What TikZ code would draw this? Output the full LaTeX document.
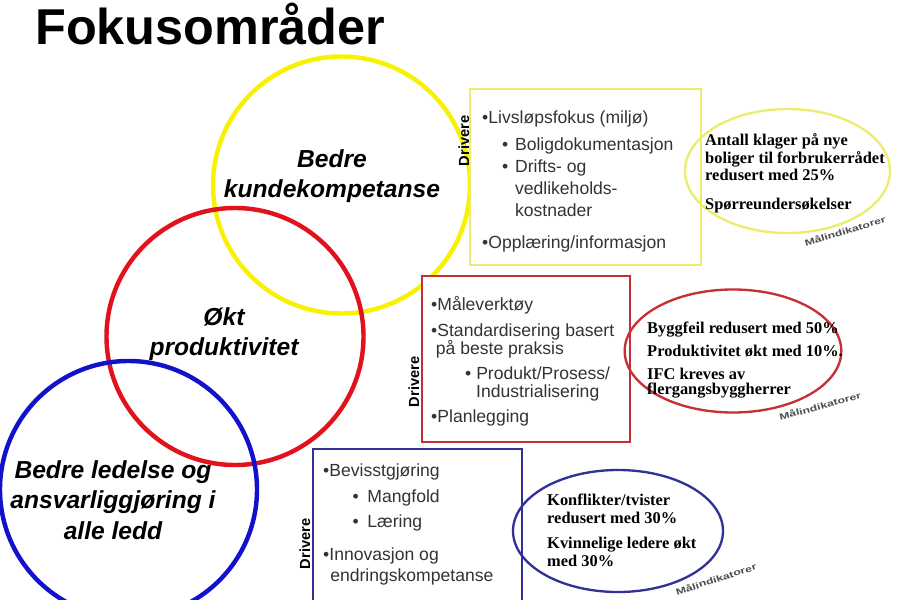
\documentclass[tikz,border=0pt]{standalone}
\usepackage{fontspec}
\setmainfont{Liberation Sans}
\newfontfamily\tnr{Liberation Serif}
\usetikzlibrary{shapes.geometric}
\definecolor{ringyellow}{RGB}{248,242,0}
\definecolor{paleyellow}{RGB}{236,236,110}
\definecolor{ringred}{RGB}{226,18,28}
\definecolor{boxred}{RGB}{196,48,52}
\definecolor{ringblue}{RGB}{18,18,205}
\definecolor{boxblue}{RGB}{50,50,150}
\begin{document}
\begin{tikzpicture}[x=0.03cm,y=-0.03cm]
    \tikzset{% This is the style settings for nodes
    ring/.style={circle,line width=3.8pt,minimum size=7.71cm,inner sep=0pt},
    area/.style={font=\fontsize{21}{26}\selectfont\bfseries\itshape,align=center},
    box/.style={rectangle,line width=1.6pt,fill=white,inner sep=0pt},
    drv/.style={text=black!80,align=left,anchor=north west,inner sep=0pt},
    goal/.style={ellipse,line width=2pt,inner sep=0pt},
    gtxt/.style={align=left,anchor=north west,inner sep=0pt},
    tag/.style={font=\fontsize{12.5}{13}\selectfont\bfseries,rotate=90,inner sep=0pt},
    mal/.style={font=\fontsize{7.5}{8}\selectfont\bfseries,text=black!70,xscale=1.4,inner sep=0pt},
    }
    \useasboundingbox (0,0) rectangle (900,600);

    % Title
    \node[anchor=base west,inner sep=0pt,font=\fontsize{43}{46}\selectfont\bfseries] (title) at (35,45) {Fokusområder};

    % Circles
    \node[ring,draw=ringyellow] (yc) at (341.5,185) {};
    \node[ring,draw=ringred] (rc) at (235,336.5) {};
    \node[ring,draw=ringblue] (bc) at (128.5,489.5) {};
    \node[area] (yt) at (332,176) {Bedre\\kundekompetanse};
    \node[area] (rt) at (224,334) {Økt\\produktivitet};
    \node[area] (bt) at (113,500) {Bedre ledelse og\\ansvarliggjøring i\\alle ledd};

    % Boxes
    \node[box,draw=paleyellow,minimum width=6.93cm,minimum height=5.28cm] (yb) at (585.5,177) {};
    \node[box,draw=boxred,minimum width=6.24cm,minimum height=4.98cm] (rb) at (526,359) {};
    \node[box,draw=boxblue,minimum width=6.27cm,minimum height=5.1cm] (bb) at (417.5,534) {};
    \node[tag] (yd) at (464,141) {Drivere};
    \node[tag] (rd) at (414,382) {Drivere};
    \node[tag] (bd) at (305,544) {Drivere};

    \node[drv,font=\fontsize{15}{19}\selectfont] (yl) at (482,111) {•Livsløpsfokus (miljø)\\[3.4pt]
      \hspace*{17pt}•\hspace{5.8pt}Boligdokumentasjon\\
      \hspace*{17pt}•\hspace{5.8pt}Drifts- og\\
      \hspace*{28pt}vedlikeholds-\\
      \hspace*{28pt}kostnader\\[7.5pt]
      •Opplæring/informasjon};
    \node[drv,font=\fontsize{15}{15.4}\selectfont] (rl) at (431,296) {•Måleverktøy\\[6.8pt]
      •Standardisering basert\\
      \hspace*{4pt}på beste praksis\\[6pt]
      \hspace*{29pt}•\hspace{4.2pt}Produkt/Prosess/\\
      \hspace*{38.4pt}Industrialisering\\[6pt]
      •Planlegging};
    \node[drv,font=\fontsize{15}{18}\selectfont] (bl) at (323,464) {•Bevisstgjøring\\[4pt]
      \hspace*{25pt}•\hspace{7.5pt}Mangfold\\[3.5pt]
      \hspace*{25pt}•\hspace{7.5pt}Læring\\[9.5pt]
      •Innovasjon og\\
      \hspace*{6pt}endringskompetanse};

    % Goals
    \node[goal,draw=paleyellow,minimum width=6.15cm,minimum height=3.72cm] (ye) at (787.5,171) {};
    \node[goal,draw=boxred,minimum width=6.5cm,minimum height=3.69cm] (re) at (733,351) {};
    \node[goal,draw=boxblue,minimum width=6.3cm,minimum height=3.66cm] (be) at (618,531) {};

    \node[gtxt,font=\tnr\fontsize{14}{15}\selectfont\bfseries] (yg) at (705,133.5) {Antall klager på nye\\
      boliger til forbrukerrådet\\
      redusert med 25\%\\[9.7pt]
      Spørreundersøkelser};
    \node[gtxt,font=\tnr\fontsize{14}{13}\selectfont\bfseries] (rg) at (647,322) {Byggfeil redusert med 50\%\\[6.5pt]
      Produktivitet økt med 10\%.\\[6.5pt]
      IFC kreves av\\
      flergangsbyggherrer};
    \node[gtxt,font=\tnr\fontsize{14}{15.5}\selectfont\bfseries] (bg) at (547,493.5) {Konflikter/tvister\\
      redusert med 30\%\\[6pt]
      Kvinnelige ledere økt\\
      med 30\%};

    \node[rotate=17,mal] (ym) at (845,231) {Målindikatorer};
    \node[rotate=15,mal] (rm) at (820,406) {Målindikatorer};
    \node[rotate=18,mal] (bm) at (716,579) {Målindikatorer};
\end{tikzpicture}
\end{document}
